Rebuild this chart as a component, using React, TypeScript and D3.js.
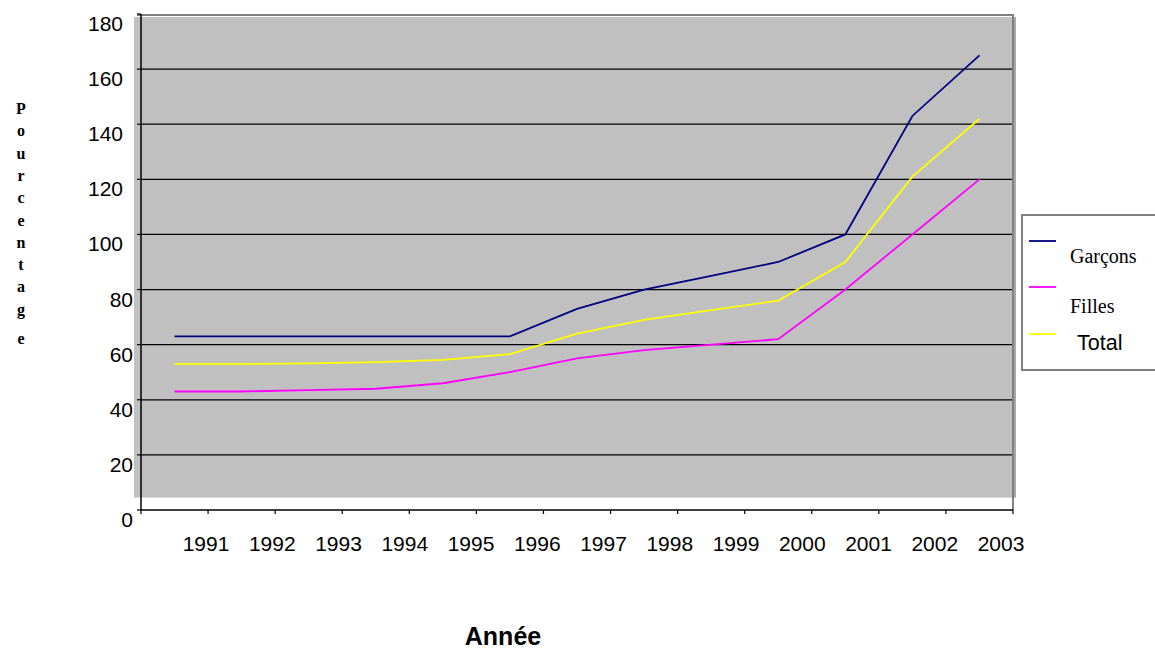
import React, { useRef, useEffect } from 'react';
import * as d3 from 'd3';

const years = ['1991', '1992', '1993', '1994', '1995', '1996', '1997', '1998', '1999', '2000', '2001', '2002', '2003'];
const garcons = [63, 63, 63, 63, 63, 63, 73, 80, 85, 90, 100, 143, 165];
const filles = [43, 43, 43.5, 44, 46, 50, 55, 58, 60, 62, 80, 100, 120];
const total = [53, 53, 53.2, 53.7, 54.5, 56.6, 64, 69, 72.5, 76, 90, 121, 142];
const yTicks = [0, 20, 40, 60, 80, 100, 120, 140, 160, 180];
const yLabel = 'Pourcentage';

const seriesList = [
    { name: 'Garçons', values: garcons, color: '#000080', font: 'Liberation Serif, Times New Roman, serif', size: 20 },
    { name: 'Filles', values: filles, color: '#FF00FF', font: 'Liberation Serif, Times New Roman, serif', size: 20 },
    { name: 'Total', values: total, color: '#FFFF00', font: 'Liberation Sans, Arial, sans-serif', size: 21.5 },
];

const App = () => {
    const svgRef = useRef(null);

    useEffect(() => {
        const svg = d3.select(svgRef.current);
        svg.selectAll('*').remove();
        const width = 1155;
        const height = 650;
        const left = 141, right = 1013, bottom = 510, top = 14;
        const sans = 'Liberation Sans, Arial, sans-serif';

        svg.attr('width', width).attr('height', height);

        const x = d3.scaleBand().domain(years).range([left, right]).padding(0);
        const xLab = d3.scalePoint().domain(years).range([206, 1001]);
        const y = d3.scaleLinear().domain([0, 180]).range([bottom, top]);

        // plot background
        svg.append('rect')
            .attr('x', left - 7).attr('y', y(180) + 3)
            .attr('width', right - left + 9).attr('height', y(4.5) - y(180) - 3)
            .attr('fill', '#C0C0C0');

        // gridlines
        svg.append('g')
            .selectAll('line')
            .data(yTicks.filter(d => d > 0 && d < 180))
            .join('line')
            .attr('x1', left).attr('x2', right)
            .attr('y1', d => y(d)).attr('y2', d => y(d))
            .attr('stroke', '#000').attr('stroke-width', 1.2);

        // top + right border
        svg.append('line')
            .attr('x1', left - 4).attr('x2', right + 1)
            .attr('y1', y(180) + 1).attr('y2', y(180) + 1)
            .attr('stroke', '#808080').attr('stroke-width', 2);
        svg.append('line')
            .attr('x1', right).attr('x2', right)
            .attr('y1', y(180)).attr('y2', bottom)
            .attr('stroke', '#808080').attr('stroke-width', 2);
        svg.append('line')
            .attr('x1', right + 2).attr('x2', right + 2)
            .attr('y1', y(180) + 3).attr('y2', y(4.5))
            .attr('stroke', '#A8A8A8').attr('stroke-width', 2);

        // axes
        const yAxis = svg.append('g');
        yAxis.append('line')
            .attr('x1', left).attr('x2', left).attr('y1', top).attr('y2', bottom)
            .attr('stroke', '#000').attr('stroke-width', 1.5);
        yAxis.selectAll('line.tick')
            .data(yTicks)
            .join('line')
            .attr('class', 'tick')
            .attr('x1', left - 4).attr('x2', left)
            .attr('y1', d => y(d)).attr('y2', d => y(d))
            .attr('stroke', '#000').attr('stroke-width', 1.2);
        yAxis.selectAll('text')
            .data(yTicks)
            .join('text')
            .attr('x', d => d >= 100 ? 123 : 133)
            .attr('y', d => y(d) + 17)
            .attr('text-anchor', 'end')
            .attr('font-family', sans).attr('font-size', 21)
            .text(d => d);

        const xAxis = svg.append('g');
        xAxis.append('line')
            .attr('x1', left).attr('x2', right).attr('y1', bottom).attr('y2', bottom)
            .attr('stroke', '#000').attr('stroke-width', 1.5);
        xAxis.selectAll('line.tick')
            .data([...years.map(d => x(d)), right])
            .join('line')
            .attr('class', 'tick')
            .attr('x1', d => d).attr('x2', d => d)
            .attr('y1', bottom).attr('y2', bottom + 4)
            .attr('stroke', '#000').attr('stroke-width', 1.2);
        xAxis.selectAll('text')
            .data(years)
            .join('text')
            .attr('x', d => xLab(d))
            .attr('y', 551)
            .attr('text-anchor', 'middle')
            .attr('font-family', sans).attr('font-size', 21)
            .text(d => d);

        // lines
        const line = d3.line()
            .x((d, i) => x(years[i]) + x.bandwidth() / 2)
            .y(d => y(d));
        svg.append('g')
            .selectAll('path')
            .data(seriesList)
            .join('path')
            .attr('d', s => line(s.values))
            .attr('fill', 'none')
            .attr('stroke', s => s.color)
            .attr('stroke-width', 1.8);

        // axis titles
        svg.append('text')
            .attr('x', 503).attr('y', 645)
            .attr('text-anchor', 'middle')
            .attr('font-family', sans).attr('font-size', 25).attr('font-weight', 'bold')
            .text('Année');

        const yt = svg.append('text')
            .attr('font-family', 'Liberation Serif, Times New Roman, serif')
            .attr('font-size', 16).attr('font-weight', 'bold')
            .attr('text-anchor', 'middle');
        yt.selectAll('tspan')
            .data(yLabel.split(''))
            .join('tspan')
            .attr('x', 21)
            .attr('y', (d, i) => 114 + i * 22.3 + (i === 10 ? 7 : 0))
            .text(d => d);

        // legend
        const lg = svg.append('g');
        lg.append('rect')
            .attr('x', 1022).attr('y', 215).attr('width', 150).attr('height', 155)
            .attr('fill', '#fff').attr('stroke', '#808080').attr('stroke-width', 2);
        const lineY = [241, 287, 334];
        const textPos = [[1070, 263], [1070, 313], [1077, 350]];
        lg.selectAll('line')
            .data(seriesList)
            .join('line')
            .attr('x1', 1029).attr('x2', 1056)
            .attr('y1', (d, i) => lineY[i]).attr('y2', (d, i) => lineY[i])
            .attr('stroke', d => d.color).attr('stroke-width', 1.8);
        lg.selectAll('text')
            .data(seriesList)
            .join('text')
            .attr('x', (d, i) => textPos[i][0]).attr('y', (d, i) => textPos[i][1])
            .attr('font-family', d => d.font).attr('font-size', d => d.size)
            .text(d => d.name);
    }, []);

    return <svg ref={svgRef} style={{ position: 'absolute', left: 0, top: 0 }}></svg>;
};

export default App;
